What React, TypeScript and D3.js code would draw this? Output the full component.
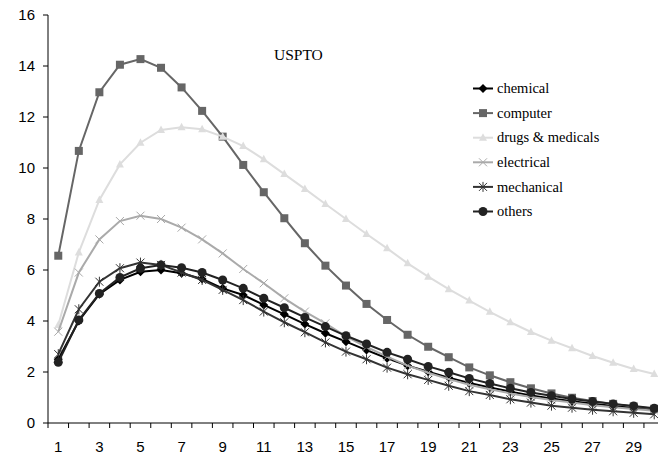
import React from 'react';
import * as d3 from 'd3';

const categories = d3.range(1, 31);
const tickLabels = categories.filter((c) => c % 2 === 1).map(String);
const yTicks = [0, 2, 4, 6, 8, 10, 12, 14, 16];

const chemical = [2.5, 4.0, 5.05, 5.61, 5.93, 6.0, 5.87, 5.65, 5.28, 5.02, 4.63, 4.26, 3.88, 3.52, 3.19, 2.86, 2.54, 2.25, 2.01, 1.78, 1.57, 1.39, 1.23, 1.08, 0.96, 0.85, 0.76, 0.67, 0.6, 0.53];
const computer = [6.56, 10.67, 12.97, 14.05, 14.27, 13.93, 13.16, 12.24, 11.23, 10.12, 9.05, 8.03, 7.05, 6.17, 5.39, 4.67, 4.04, 3.46, 2.99, 2.58, 2.18, 1.87, 1.6, 1.36, 1.16, 0.99, 0.86, 0.75, 0.65, 0.56];
const drugs = [3.84, 6.69, 8.75, 10.14, 10.99, 11.49, 11.6, 11.52, 11.23, 10.86, 10.34, 9.76, 9.18, 8.59, 8.0, 7.41, 6.85, 6.26, 5.74, 5.25, 4.8, 4.36, 3.95, 3.57, 3.23, 2.93, 2.63, 2.36, 2.12, 1.92];
const electrical = [3.58, 5.9, 7.2, 7.92, 8.13, 8.0, 7.66, 7.2, 6.65, 6.04, 5.48, 4.89, 4.37, 3.91, 3.4, 2.98, 2.6, 2.25, 1.97, 1.72, 1.5, 1.32, 1.16, 1.02, 0.9, 0.8, 0.7, 0.62, 0.55, 0.48];
const mechanical = [2.7, 4.46, 5.54, 6.07, 6.29, 6.2, 5.9, 5.61, 5.22, 4.82, 4.37, 3.95, 3.56, 3.16, 2.8, 2.5, 2.17, 1.91, 1.69, 1.46, 1.25, 1.1, 0.93, 0.8, 0.68, 0.6, 0.52, 0.46, 0.4, 0.34];
const others = [2.38, 4.04, 5.08, 5.71, 6.07, 6.2, 6.09, 5.9, 5.61, 5.28, 4.89, 4.52, 4.14, 3.78, 3.42, 3.1, 2.77, 2.5, 2.22, 1.99, 1.75, 1.55, 1.36, 1.2, 1.07, 0.94, 0.84, 0.75, 0.67, 0.58];

type Marker = 'diamond' | 'square' | 'triangle' | 'x' | 'star' | 'circle';

const series: { name: string; values: number[]; color: string; marker: Marker }[] = [
  { name: 'chemical', values: chemical, color: '#000000', marker: 'diamond' },
  { name: 'computer', values: computer, color: '#666666', marker: 'square' },
  { name: 'drugs & medicals', values: drugs, color: '#dddddd', marker: 'triangle' },
  { name: 'electrical', values: electrical, color: '#aaaaaa', marker: 'x' },
  { name: 'mechanical', values: mechanical, color: '#333333', marker: 'star' },
  { name: 'others', values: others, color: '#222222', marker: 'circle' },
];

const left = 48;
const top = 15;
const bottom = 423;
const bandW = 20.55;
const sans = "'Liberation Sans', Arial, sans-serif";
const serif = "'Liberation Serif', 'Times New Roman', serif";

function MarkerGlyph({ kind, x, y, color }: { kind: Marker; x: number; y: number; color: string }) {
  switch (kind) {
    case 'diamond':
      return <path d={`M${x},${y - 4.5}L${x + 4.5},${y}L${x},${y + 4.5}L${x - 4.5},${y}Z`} fill={color} />;
    case 'square':
      return <rect x={x - 4} y={y - 4} width={8} height={8} fill={color} />;
    case 'triangle':
      return <path d={`M${x},${y - 4.5}L${x + 4},${y + 3}L${x - 4},${y + 3}Z`} fill={color} />;
    case 'x':
      return (
        <path d={`M${x - 4},${y - 4}L${x + 4},${y + 4}M${x - 4},${y + 4}L${x + 4},${y - 4}`} stroke={color} strokeWidth={1} />
      );
    case 'star':
      return (
        <path
          d={`M${x - 4},${y - 4}L${x + 4},${y + 4}M${x - 4},${y + 4}L${x + 4},${y - 4}M${x},${y - 5}L${x},${y + 5}`}
          stroke={color}
          strokeWidth={1}
        />
      );
    default:
      return <circle cx={x} cy={y} r={4.5} fill={color} />;
  }
}

export default function App() {
  const x = d3
    .scaleBand<number>()
    .domain(categories)
    .range([left, left + bandW * categories.length])
    .paddingInner(0)
    .paddingOuter(0);
  const y = d3.scaleLinear().domain([0, 16]).range([bottom, top]);
  const cx = (c: number) => (x(c) as number) + x.bandwidth() / 2;

  const line = d3
    .line<number>()
    .x((_, i) => cx(categories[i]))
    .y((d) => y(d));

  const legendX = 473;
  const legendY = 88.5;
  const legendStep = 24.6;

  return (
    <svg width={658} height={460} style={{ position: 'absolute', left: 0, top: 0, background: '#fff' }}>
      {/* y axis */}
      <line x1={left} x2={left} y1={top} y2={bottom} stroke="#000" />
      {yTicks.map((t) => (
        <g key={t}>
          <line x1={left - 5} x2={left} y1={y(t)} y2={y(t)} stroke="#000" />
          <text x={35} y={y(t)} dy="0.36em" textAnchor="end" fontFamily={sans} fontSize={15}>
            {t}
          </text>
        </g>
      ))}
      {/* x axis */}
      <line x1={left} x2={658} y1={bottom} y2={bottom} stroke="#000" />
      {categories.map((c) => (
        <line key={c} x1={x(c)} x2={x(c)} y1={bottom} y2={bottom + 5} stroke="#000" />
      ))}
      {tickLabels.map((t) => (
        <text key={t} x={cx(+t)} y={451.5} textAnchor="middle" fontFamily={sans} fontSize={15}>
          {t}
        </text>
      ))}
      {/* series */}
      {series.map((s) => (
        <g key={s.name}>
          <path d={line(s.values) as string} fill="none" stroke={s.color} strokeWidth={2} />
          {s.values.map((v, i) => (
            <MarkerGlyph key={i} kind={s.marker} x={cx(categories[i])} y={y(v)} color={s.color} />
          ))}
        </g>
      ))}
      {/* title */}
      <text x={274} y={60} fontFamily={serif} fontSize={15.5}>
        USPTO
      </text>
      {/* legend */}
      {series.map((s, i) => {
        const ly = legendY + i * legendStep;
        return (
          <g key={s.name}>
            <line x1={legendX} x2={legendX + 20} y1={ly} y2={ly} stroke={s.color} strokeWidth={2} />
            <MarkerGlyph kind={s.marker} x={legendX + 10} y={ly} color={s.color} />
            <text x={legendX + 24} y={ly} dy="0.32em" fontFamily={serif} fontSize={14.5}>
              {s.name}
            </text>
          </g>
        );
      })}
    </svg>
  );
}
